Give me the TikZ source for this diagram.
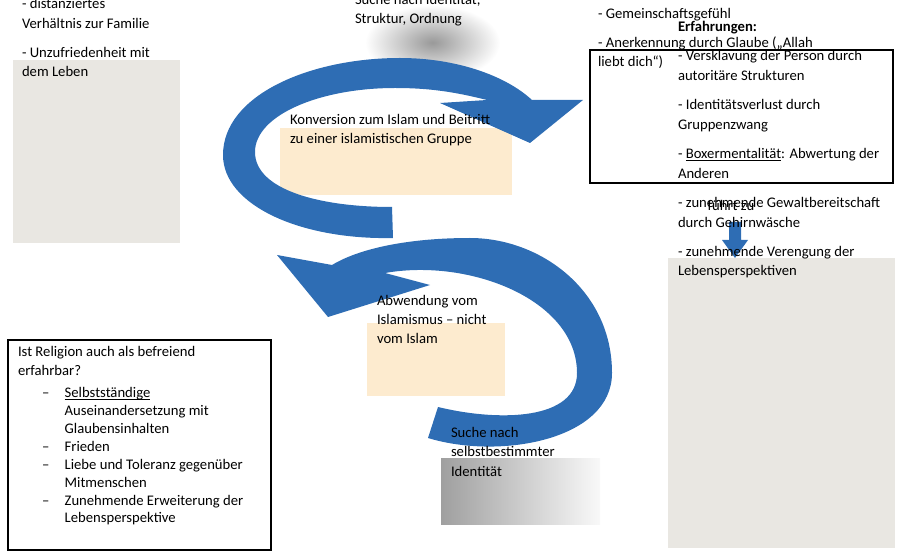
\documentclass[tikz,border=0pt]{standalone}
\usepackage{fontspec}
\setmainfont{Carlito}
\usetikzlibrary{positioning}
\definecolor{myblue}{HTML}{2E6DB4}
\definecolor{mypaper}{HTML}{E9E7E2}
\definecolor{mysand}{HTML}{FDEBCF}
\newcommand{\mytext}{\fontsize{11}{14.6}\selectfont}
\newcommand{\myul}[1]{\underline{\smash{#1}}}

\begin{document}
\begin{tikzpicture}[x=0.75pt,y=-0.75pt,font=\mytext]
	\tikzstyle{every node}=[inner sep=0pt,outer sep=0pt]
	\tikzstyle{txt} =[anchor=base west,align=left]            % txt = text block
	\tikzstyle{pap} =[fill=mypaper]                            % pap = paper box
	\tikzstyle{frm} =[draw=black,line width=0.8pt,fill=white]  % frm = framed box
	\tikzstyle{snd} =[fill=mysand]                             % snd = sand box
	\useasboundingbox (0,0) rectangle (902,559);

	% glow behind the top text
	\shade[inner color=gray!80,outer color=white] (365,5) rectangle (500,80);
	\node(top)[txt] at (355,24) {Suche nach Identität,\\Struktur, Ordnung};

	% boxes
	\fill[pap] (13,60) rectangle (180,243);
	\draw[frm] (590,50) rectangle (893,183);
	\fill[pap] (668,258) rectangle (895,548);
	\draw[frm] (8,340) rectangle (271,550);
	\fill[snd] (280,128) rectangle (512,195);
	\fill[snd] (367,323) rectangle (505,396);
	\shade[left color=gray!75,right color=gray!5] (441,458) rectangle (600,524);

	% arrow group top
	\fill[myblue] (393,238) .. controls (300,240) and (223,205) .. (223,155)
		.. controls (223,95) and (310,58) .. (400,58)
		.. controls (455,58) and (505,75) .. (532,100)
		-- (583,100) -- (530,143) -- (440,103) -- (487,100)
		.. controls (455,92) and (430,88) .. (395,88)
		.. controls (320,88) and (255,115) .. (255,152)
		.. controls (255,190) and (320,207) .. (392,207) -- cycle;

	% arrow group bottom
	\fill[myblue] (428,438) .. controls (500,460) and (612,440) .. (612,373)
		.. controls (612,290) and (540,238) .. (470,238)
		.. controls (410,238) and (360,248) .. (332,265)
		-- (277,255) -- (328,317) -- (430,285) -- (385,273)
		.. controls (470,258) and (577,300) .. (577,373)
		.. controls (577,420) and (500,422) .. (438,407) -- cycle;

	% small arrow
	\node(fz)[anchor=base] at (731,211) {führt zu};
	\fill[myblue] (729,222) -- (741,222) -- (741,240) -- (748,240) -- (735,258)
		-- (722,240) -- (729,240) -- cycle;

	% texts
	\node(erf1)[txt] at (22,77) {\textbf{Erfahrungen:}\\[7.5pt]- seelische\\Verunsicherung\\[7.5pt]- distanziertes\\Verhältnis zur Familie\\[7.5pt]- Unzufriedenheit mit\\dem Leben};
	\node(grp)[txt] at (598,67) {Islamistische Gruppe bietet:\\[7.5pt]- einfache, klare Antworten\\[7.5pt]- Gemeinschaftsgefühl\\[7.5pt]- Anerkennung durch Glaube („Allah\\liebt dich“)};
	\node(erf2)[txt] at (678,276) {\textbf{Erfahrungen:}\\[7.5pt]- Versklavung der Person durch\\autoritäre Strukturen\\[7.5pt]- Identitätsverlust durch\\Gruppenzwang\\[7.5pt]- \myul{Boxermentalität}: Abwertung der\\Anderen\\[7.5pt]- zunehmende Gewaltbereitschaft\\durch Gehirnwäsche\\[7.5pt]- zunehmende Verengung der\\Lebensperspektiven};
	\node(rel)[anchor=north west,align=left] at (18,346) {Ist Religion auch als befreiend\\erfahrbar?\\[6pt]%
		\setlength{\tabcolsep}{0pt}\renewcommand{\arraystretch}{0.92}%
		\begin{tabular}{@{\hspace{18pt}}p{17pt}l}
		-- & \myul{Selbstständige}\\ & Auseinandersetzung mit\\ & Glaubensinhalten\\
		-- & Frieden\\
		-- & Liebe und Toleranz gegenüber\\ & Mitmenschen\\
		-- & Zunehmende Erweiterung der\\ & Lebensperspektive
		\end{tabular}};
	\node(konv)[txt] at (290,144) {Konversion zum Islam und Beitritt\\zu einer islamistischen Gruppe};
	\node(abw)[txt] at (377,344) {Abwendung vom\\Islamismus – nicht\\vom Islam};
	\node(such)[txt] at (451,476) {Suche nach\\selbstbestimmter\\Identität};
\end{tikzpicture}
\end{document}
